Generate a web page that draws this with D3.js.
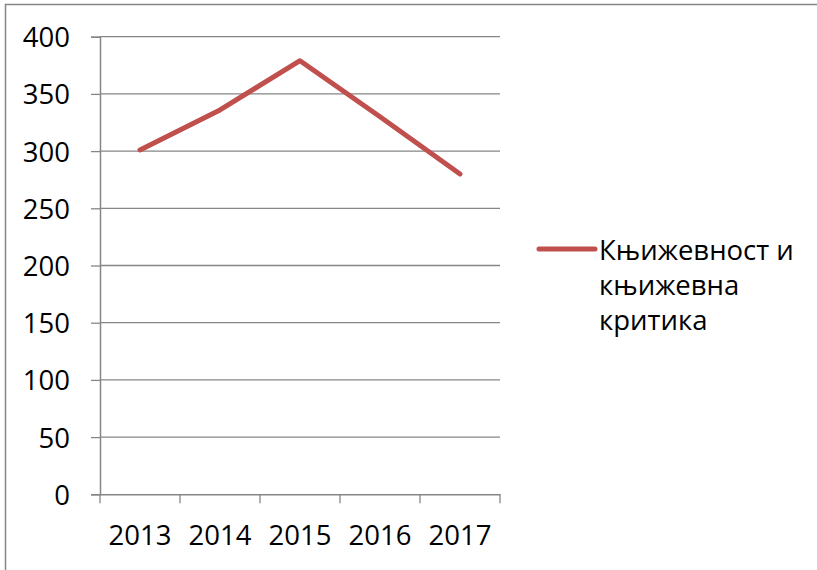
<!DOCTYPE html>
<html lang="sr">
<head>
<meta charset="utf-8">
<title>Књижевност и књижевна критика</title>
<script src="https://d3js.org/d3.v7.min.js"></script>
<style>
  body { margin: 0; background: #fff; }
  svg text { font-family: 'Open Sans', sans-serif; fill: #000; }
</style>
</head>
<body>
<div id="chart"></div>
<script>
var years = ["2013", "2014", "2015", "2016", "2017"];
var values = [301, 336, 379, 330, 280];
var yTicks = [0, 50, 100, 150, 200, 250, 300, 350, 400];
var seriesName = ["Књижевност и", "књижевна", "критика"];

var width = 817, height = 570;
var plot = {left: 100, right: 500, top: 36.7, bottom: 494.3};
var fontSize = 27.5;

var svg = d3.select("#chart").append("svg")
    .attr("width", width)
    .attr("height", height);

// outer frame
svg.append("rect")
    .attr("x", 5.5).attr("y", 4.5)
    .attr("width", 830).attr("height", 600)
    .attr("fill", "none")
    .attr("stroke", "#868686")
    .attr("stroke-width", 1.5);

var x = d3.scaleBand().domain(years).range([plot.left, plot.right]);
var y = d3.scaleLinear().domain([0, 400]).range([plot.bottom, plot.top]);

// gridlines
svg.append("g")
  .selectAll("line")
  .data(yTicks.slice(1))
  .join("line")
    .attr("x1", plot.left).attr("x2", plot.right)
    .attr("y1", function(d) { return y(d); })
    .attr("y2", function(d) { return y(d); })
    .attr("stroke", "#868686")
    .attr("stroke-width", 1.3);

// y axis
var yAxis = svg.append("g")
    .attr("transform", "translate(" + plot.left + ",0)")
    .call(d3.axisLeft(y).tickValues(yTicks).tickSize(9).tickPadding(21));
yAxis.select(".domain").attr("stroke", "#868686").attr("stroke-width", 1.5);
yAxis.selectAll(".tick line").attr("stroke", "#868686").attr("stroke-width", 1.3);
yAxis.selectAll("text").attr("font-size", fontSize).attr("font-family", "'Open Sans', sans-serif").attr("dy", "0.36em");

// x axis
var xAxis = svg.append("g")
    .attr("transform", "translate(0," + plot.bottom + ")")
    .call(d3.axisBottom(x).tickSize(0).tickPadding(31));
xAxis.select(".domain").attr("stroke", "#868686").attr("stroke-width", 1.5);
xAxis.selectAll("text").attr("font-size", fontSize).attr("font-family", "'Open Sans', sans-serif");

// x tick marks at band boundaries
var bounds = years.map(function(d) { return x(d); }).concat([plot.right]);
svg.append("g")
  .selectAll("line")
  .data(bounds)
  .join("line")
    .attr("x1", function(d) { return d; }).attr("x2", function(d) { return d; })
    .attr("y1", plot.bottom).attr("y2", plot.bottom + 9)
    .attr("stroke", "#868686")
    .attr("stroke-width", 1.3);

// series line
var line = d3.line()
    .x(function(d, i) { return x(years[i]) + x.bandwidth() / 2; })
    .y(function(d) { return y(d); });

svg.append("path")
    .datum(values)
    .attr("d", line)
    .attr("fill", "none")
    .attr("stroke", "#c0504d")
    .attr("stroke-width", 5)
    .attr("stroke-linejoin", "round")
    .attr("stroke-linecap", "round");

// legend
var legend = svg.append("g").attr("transform", "translate(539,249)");
legend.append("line")
    .attr("x1", 0).attr("x2", 56)
    .attr("y1", 0).attr("y2", 0)
    .attr("stroke", "#c0504d")
    .attr("stroke-width", 5)
    .attr("stroke-linecap", "round");
legend.selectAll("text")
  .data(seriesName)
  .join("text")
    .attr("x", 60)
    .attr("y", function(d, i) { return 11 + i * 35; })
    .attr("font-size", fontSize)
    .text(function(d) { return d; });
</script>
</body>
</html>
